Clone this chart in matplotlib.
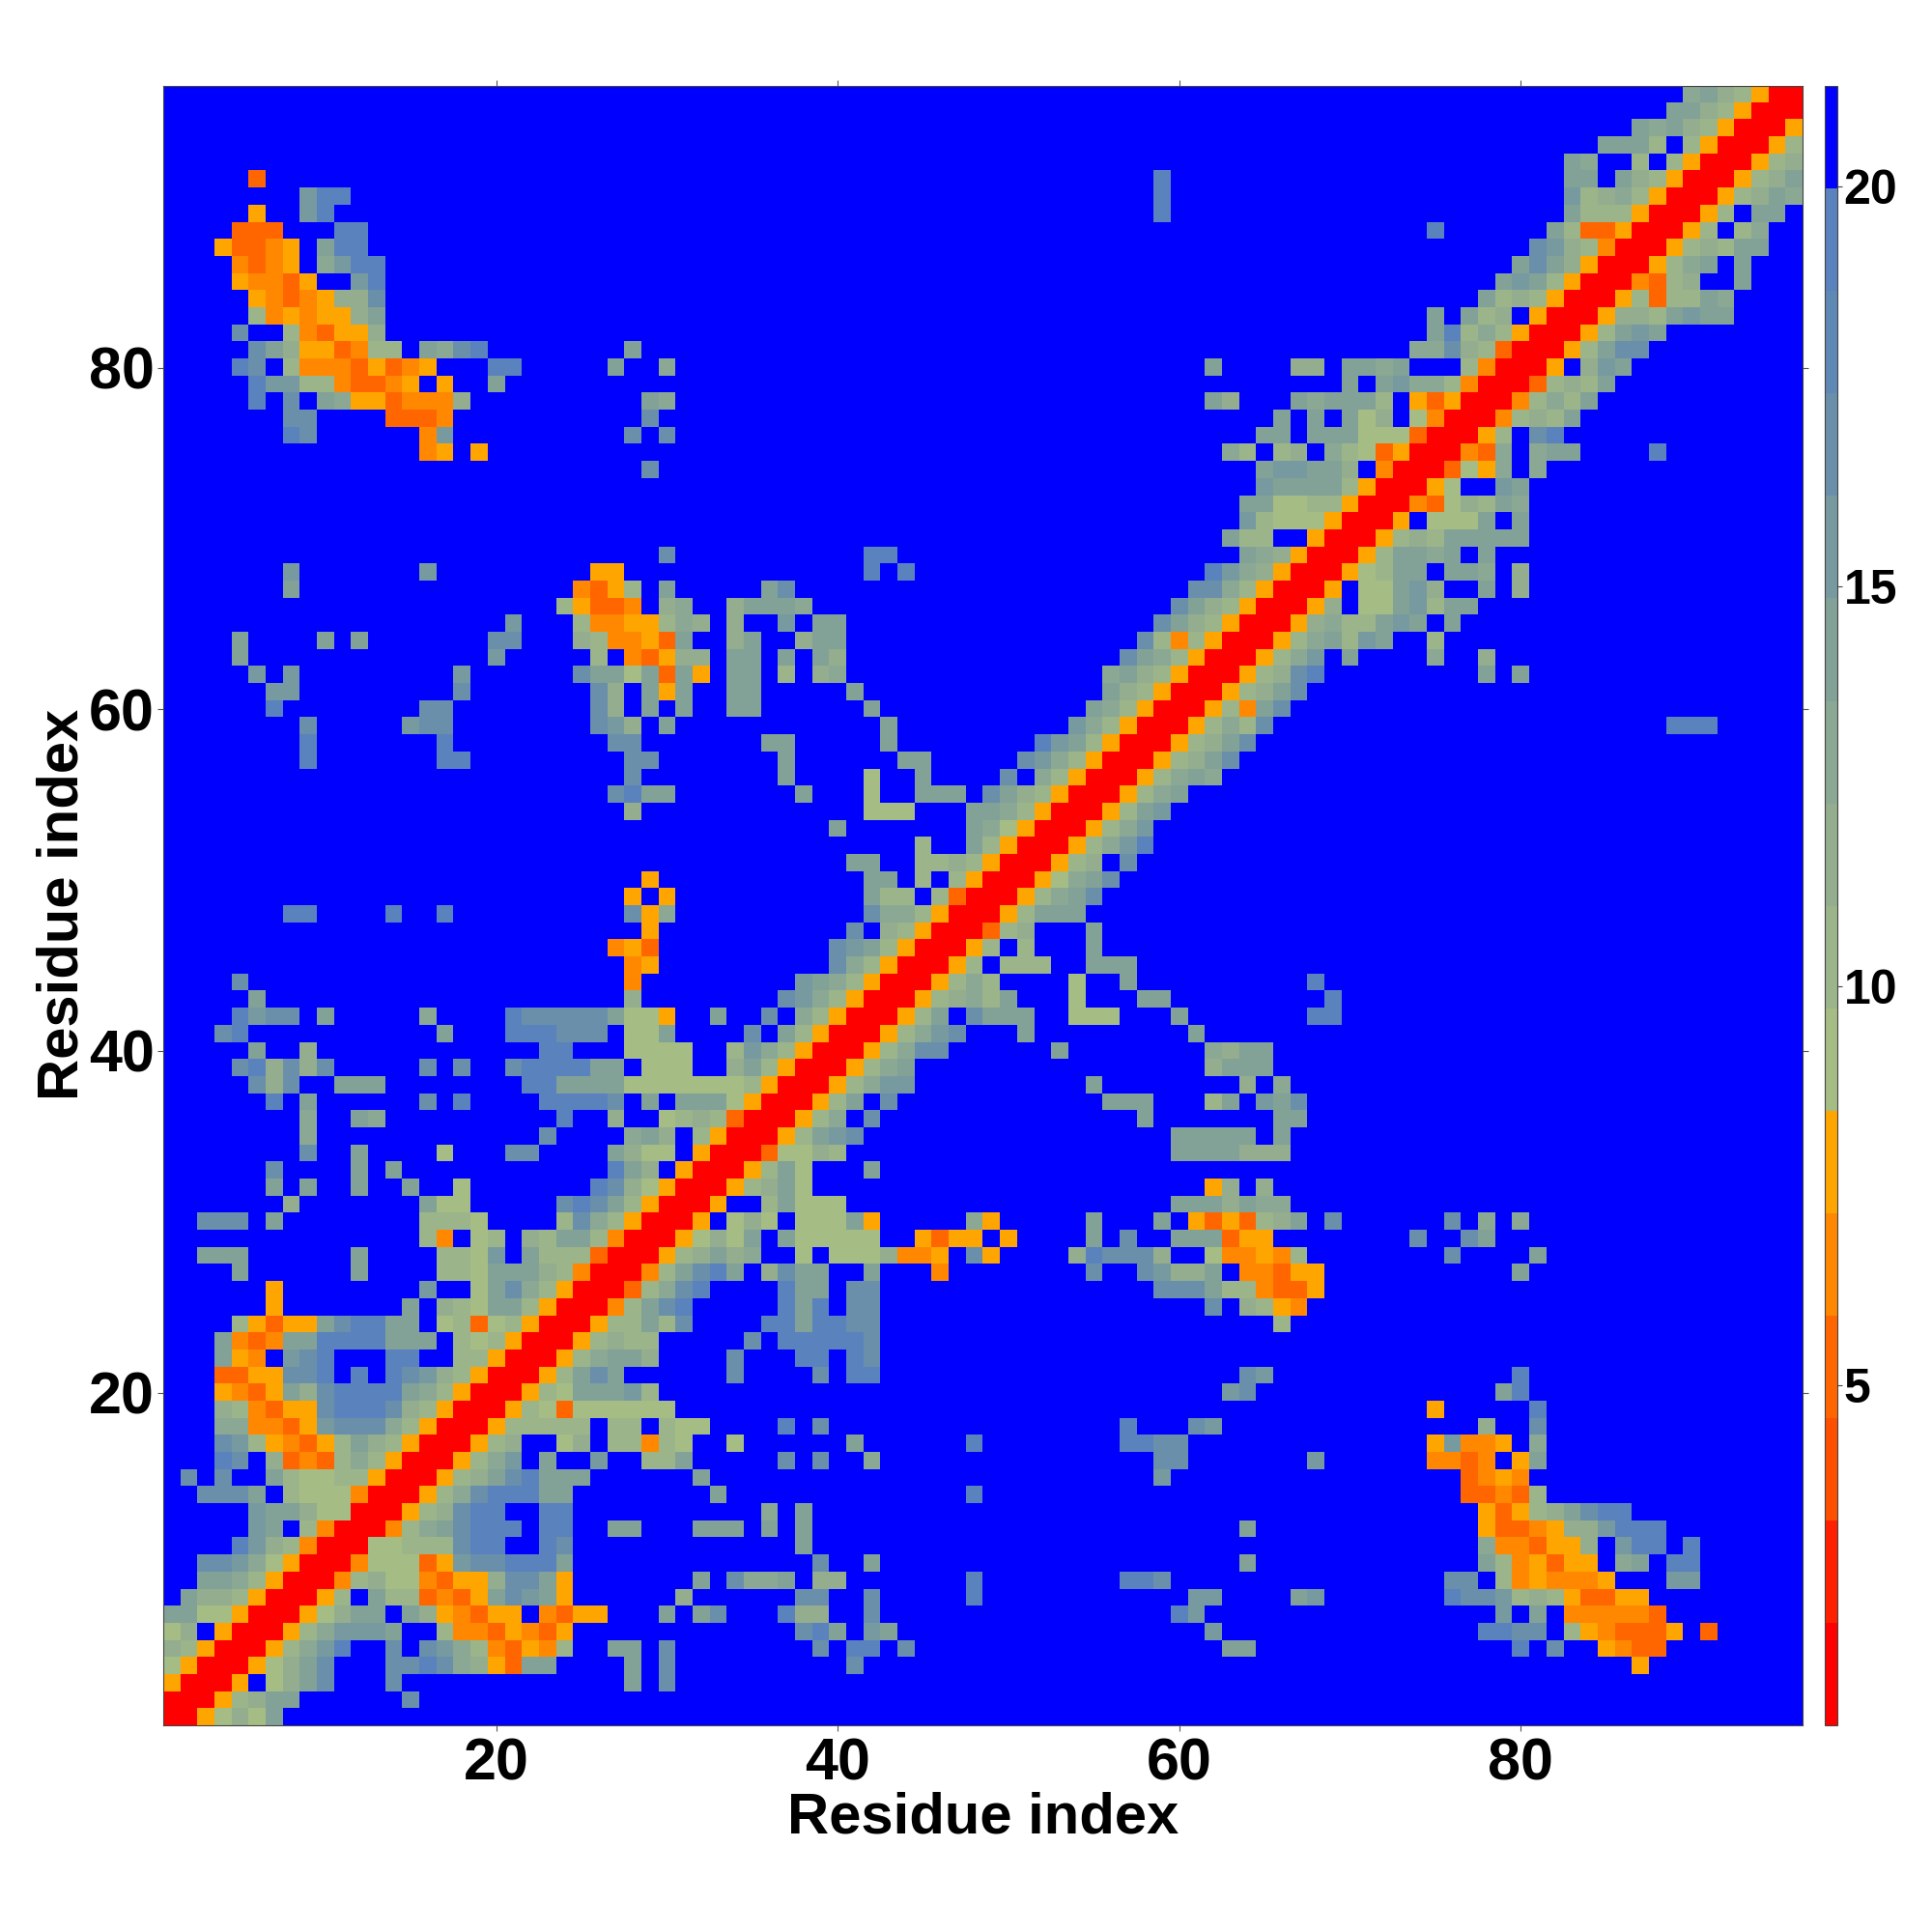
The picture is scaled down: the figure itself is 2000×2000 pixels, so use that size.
import numpy as np
import matplotlib
matplotlib.use("Agg")
import matplotlib.pyplot as plt
from matplotlib.colors import ListedColormap, BoundaryNorm
from matplotlib.cm import ScalarMappable

plt.rcParams['font.family'] = ['Liberation Sans', 'DejaVu Sans']
plt.rcParams['font.weight'] = 'bold'

# Distance map, upper triangle (it is symmetric). Each row: "start_residue:bands"
# with one hex digit per residue giving the distance band, '.' = beyond cut-off.
UPPER_ROWS = [
    "1:005686a",
    "2:00578aa 15:c",
    "3:005.68ac 14:c 28:a 30:c",
    "4:00568ac 14:ccdc9853aa 28:a 30:c 41:c 87:5",
    "5:00579bd 14:c 16:cb9743547 27:aa 30:c 39:c 41:dd 44:c 63:aa 80:d 82:c 85:5433",
    "6:00579bbba 17:74435435 38:cda 42:ba 62:b 78:ddcc 83:7543335 91:3",
    "7:00568aa 15:a854355 23:4355 30:a 32:ac 37:d88 42:c 60:db 79:b 81:a 83:444443",
    "8:0057.a773435acba5 31:8 38:cc 42:c 48:d 61:bb 67:ab 76:dccb78753355",
    "9:004786643558cca5 32:a 34:c99a 39:88 48:d 57:ddc 76:cc 79:7454445 89:bb",
    "10:00466635bccddda 39:c 42:a 64:a 78:a745355 86:9a 89:dd",
    "11:0066777cdd..dc 38:a 78:9443558 86:bdd 90:d",
    "12:00479acddd.dd 27:aa 32:aaa 36:a 38:a 64:a 78:5334588bddd",
    "13:00578cdd..dd 36:9 38:a 78:53578acdd",
    "14:00579cdddaa 33:a 48:d 77:33437",
    "15:00578acdaaa 32:a 59:b 77:3454",
    "16:00579b.a..b..77a 37:c 39:c 42:9 59:cc 68:b 75:4434.5a",
    "17:00578..68.77476 34:6 41:a 48:d 57:ddcc 75:5b445.9",
    "18:00577777.77.766 37:d 39:c 57:d 61:cb 78:8 81:c",
    "19:005763666666 75:5 81:d",
    "20:00576aaab7 63:bc 79:ad",
    "21:0057aca 34:c 39:c 41:dd 64:cb 80:d",
    "22:00579aa8 34:c 38:dd 41:dc",
    "23:0057877 35:c 37:dddddc",
    "24:00577a7c 36:ddaddcc 66:7",
    "25:0047acd 37:dad.cc 62:c.8754",
    "26:00379cd 37:daa.cc 59:ccca774335",
    "27:0047acda.8caa..a 46:4 55:c 58:cb88a.44355 80:a",
    "28:00578a89..6.6668445.c5 54:8dccc8..644547 76:c 81:a",
    "29:005686a.a66666 45:5355.5 55:a 57:c 60:aaa355 74:c 77:ca",
    "30:005.686.666a5 48:95 55:a 59:a 61:535378a 69:c 76:c 78:9 80:9",
    "31:005..7a666 60:aaa8a99",
    "32:00578a6 62:58.8",
    "33:0057a6...a",
    "34:0036687 60:aaaa888",
    "35:0057abc 60:aaaaa.a",
    "36:00579.c 58:a 66:aa",
    "37:0057a.c 56:aaa 62:7a.bac",
    "38:00579bb 55:a 64:8 66:9",
    "39:00579a 62:8aaa",
    "40:00579cc 53:a 62:98aa",
    "41:00579bc 51:a 61:a",
    "42:0057a.caaa 54:666 60:a 68:dd",
    "43:0057897a 54:6 58:aa 69:d",
    "44:005797 54:6 57:a 68:d",
    "45:0057.777 55:aaa",
    "46:0057.7 55:a",
    "47:00378 55:a",
    "48:0057aaa",
    "49:00579ac",
    "50:00569ac",
    "51:00578.c",
    "52:00579bd",
    "53:00579b",
    "54:0057ab",
    "55:00579a",
    "56:00579a9",
    "57:00578ac",
    "58:00578ac",
    "59:005797c 89:ddd",
    "60:00574ac",
    "61:00578ac",
    "62:00578cd 78:a 80:a",
    "63:00579b.a 75:9 78:8",
    "64:00579a7ba 75:7",
    "65:0058977aba.a",
    "66:0058.66ab7aa",
    "67:005.66ab8..a.8",
    "68:00567aa.aa9.8",
    "69:0057aa9a.a",
    "70:005787aaaaa",
    "71:005.666a.a",
    "72:0043687a9",
    "73:0056..ba",
    "74:003659.9",
    "75:00439.9aa 88:d",
    "76:0057.cd",
    "77:004787a",
    "78:004797a",
    "79:003787a",
    "80:005.8ba",
    "81:0057acc",
    "82:0057aba",
    "83:005887abaa",
    "84:0057377a9",
    "85:004378..a",
    "86:00579a.a",
    "87:005787aa",
    "88:0057.79",
    "89:0057.aa",
    "90:00578a9",
    "91:00578a",
    "92:00578",
    "93:0057",
    "94:005",
    "95:00",
    "96:0",
]

N_RESIDUES = 96
BAND_COLORS = ["#ff0000", "#ff2000", "#ff4f00", "#ff6600", "#ff8800", "#ffa500",
               "#a5bd84", "#9cb48a", "#93ad8e", "#8ba894", "#82a197", "#779aa0",
               "#6a8faa", "#5f88b4", "#5a82bc", "#0000ff"]
DIST_MIN = 0.744
DIST_MAX = 21.26
X_TICKS = [20, 40, 60, 80]
Y_TICKS = [20, 40, 60, 80]
CBAR_TICKS = [5, 10, 15, 20]
AXIS_LABEL = "Residue index"

n_bands = len(BAND_COLORS)
edges = np.linspace(DIST_MIN, DIST_MAX, n_bands + 1)
centres = 0.5 * (edges[:-1] + edges[1:])

band = np.full((N_RESIDUES, N_RESIDUES), n_bands - 1, dtype=int)
for row in UPPER_ROWS:
    y = int(row.split(":")[0])
    for token in row.split():
        start, digits = token.split(":")
        start = int(start)
        for k, ch in enumerate(digits):
            if ch == ".":
                continue
            level = 14 if ch == "d" else int(ch, 16)
            x = start + k
            band[y - 1, x - 1] = level
            band[x - 1, y - 1] = level
dist = centres[band]

cmap = ListedColormap(BAND_COLORS)
norm = BoundaryNorm(edges, n_bands)

W = H = 2000
fig = plt.figure(figsize=(20, 20), dpi=100, facecolor="white")
ax = fig.add_axes([169 / W, 1 - 1786.4 / H, 1697 / W, 1697.4 / H])
ax.imshow(dist, origin="lower", cmap=cmap, norm=norm, interpolation="nearest",
          extent=(0.5, N_RESIDUES + 0.5, 0.5, N_RESIDUES + 0.5), aspect="auto")
ax.set_xticks(X_TICKS)
ax.set_yticks(Y_TICKS)
ax.tick_params(axis="both", which="major", direction="out", length=4.5, width=0.8,
               color="#555555", top=True, right=True, labelsize=44, labelcolor="black")
ax.tick_params(axis="x", pad=4)
ax.tick_params(axis="y", pad=2.2)
for lab in ax.get_xticklabels() + ax.get_yticklabels():
    lab.set_fontweight("bold")
for s in ax.spines.values():
    s.set_linewidth(0.8)
    s.set_color("#444444")

fig.text(1018 / W, 1 - 1882 / H, AXIS_LABEL, fontsize=43, fontweight="bold", ha="center", va="center")
fig.text(65 / W, 1 - 936 / H, AXIS_LABEL, fontsize=43, fontweight="bold", rotation=90, ha="center", va="center")

cax = fig.add_axes([1889 / W, 1 - 1786.4 / H, 13 / W, 1697.4 / H])
sm = ScalarMappable(norm=norm, cmap=cmap)
cb = fig.colorbar(sm, cax=cax, boundaries=edges, ticks=CBAR_TICKS, spacing="proportional", drawedges=False)
cb.ax.set_yticklabels([str(t) for t in CBAR_TICKS])
cb.ax.tick_params(length=3.5, width=0.8, color="#444444", labelsize=36, pad=1.2, which="major")
cb.ax.minorticks_off()
for lab in cb.ax.get_yticklabels():
    lab.set_fontweight("bold")
cb.outline.set_linewidth(0.8)
cb.outline.set_edgecolor("#444444")

fig.savefig("out.png", dpi=100, facecolor="white")
